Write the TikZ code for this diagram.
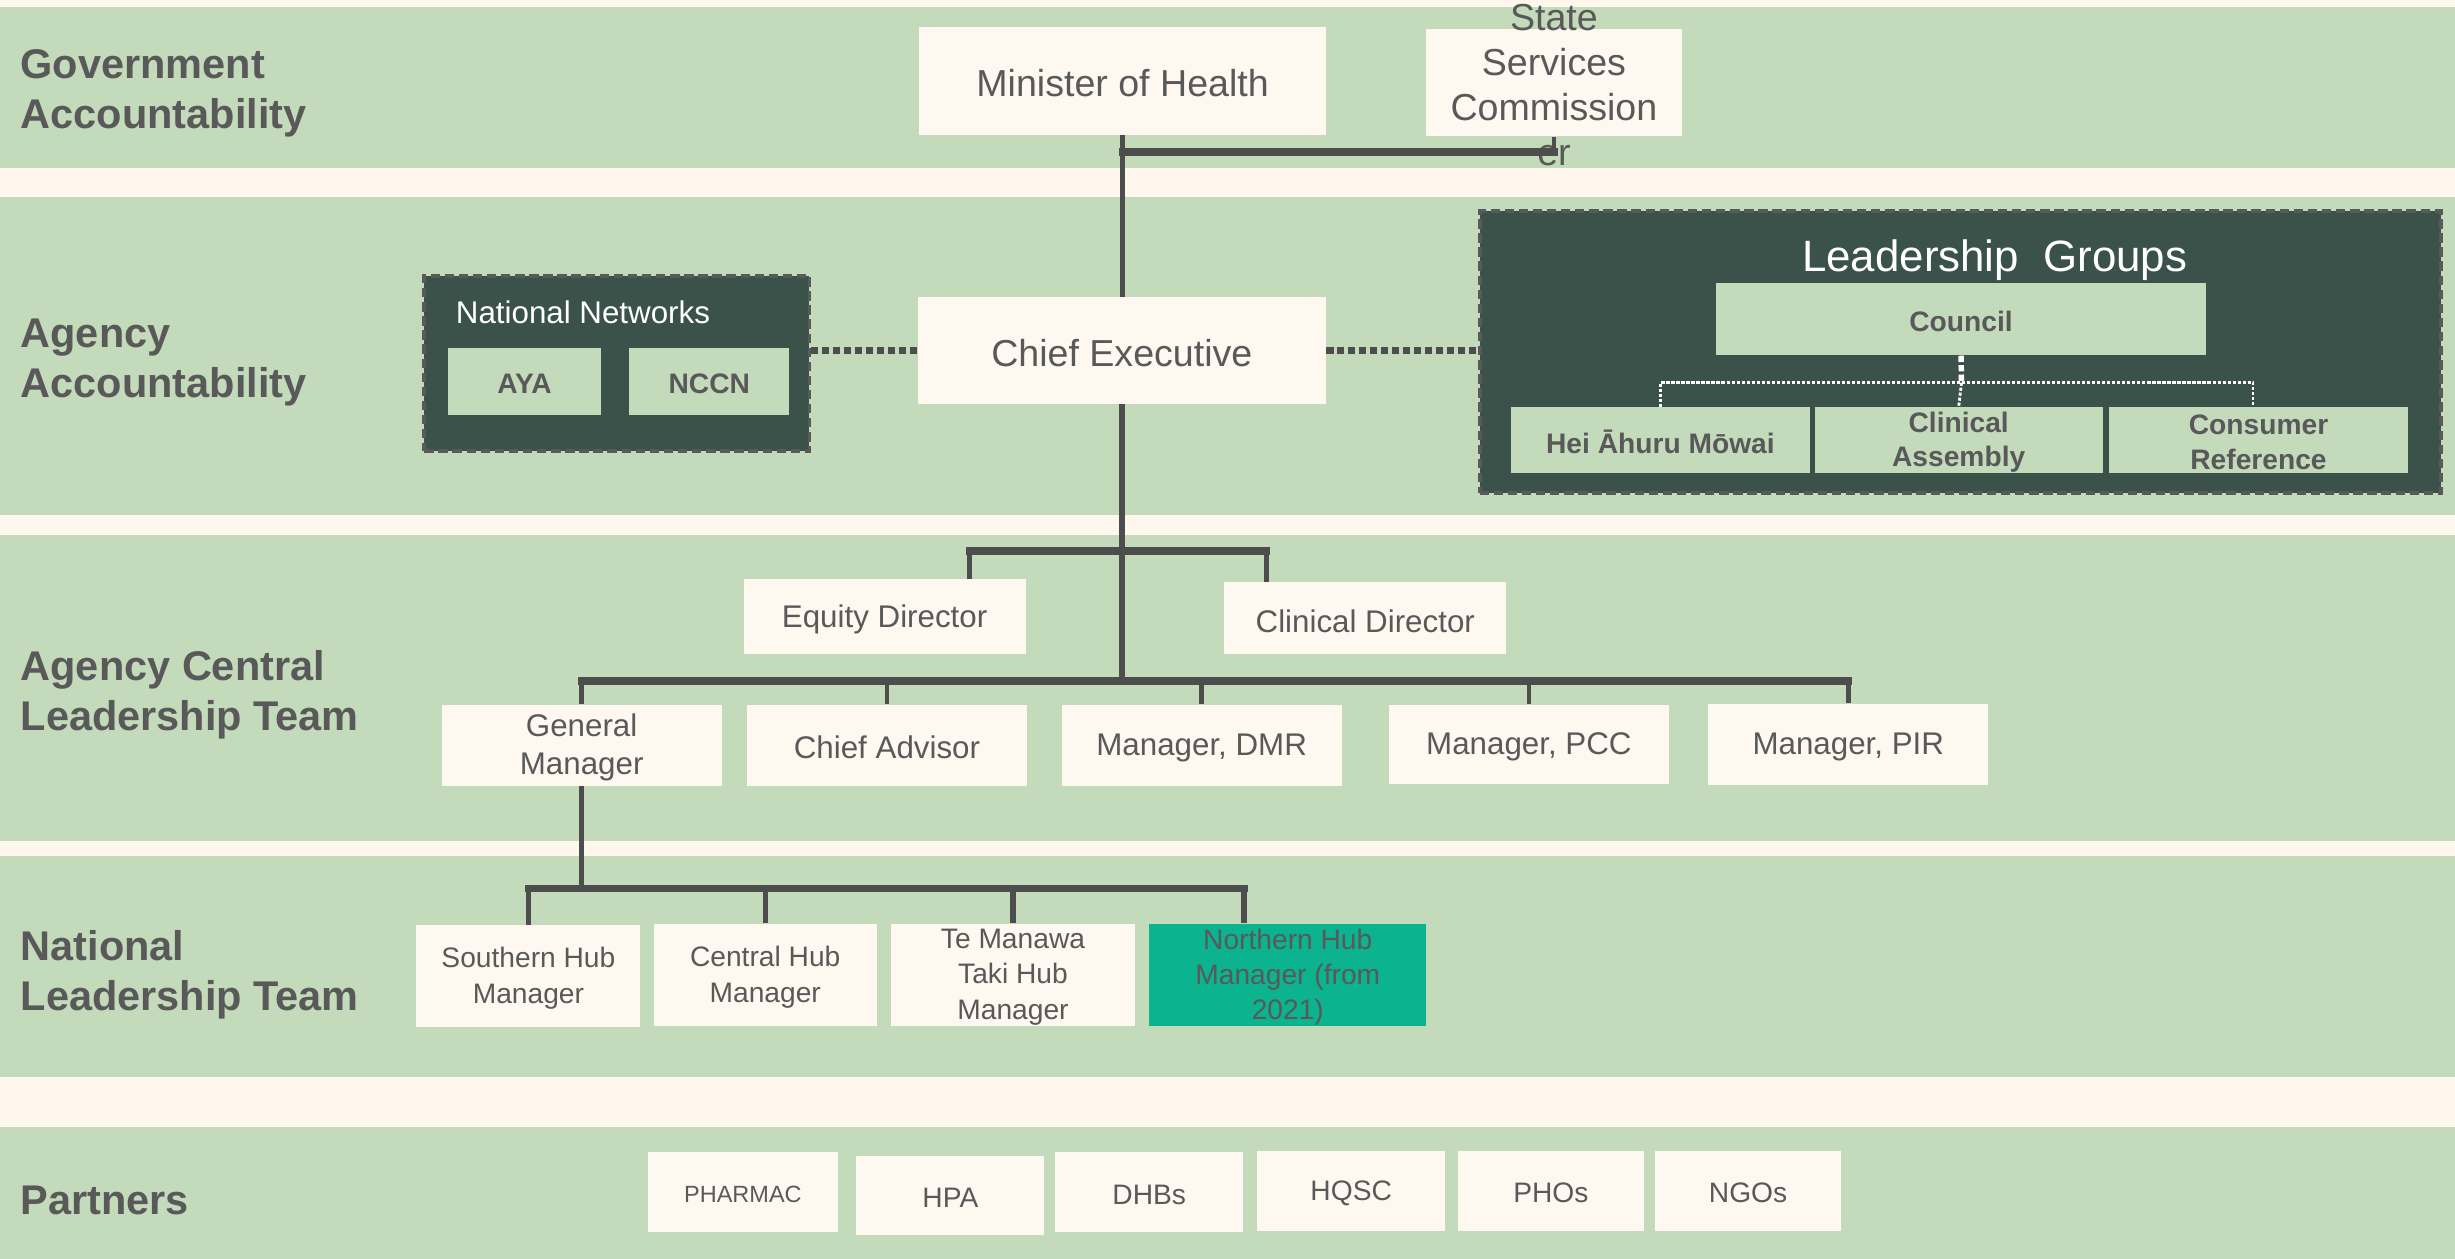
\documentclass[tikz,border=0pt]{standalone}
\usepackage{fontspec}
\setmainfont{Liberation Sans}
\usetikzlibrary{calc}
\definecolor{bgc}{HTML}{FFF7EE}
\definecolor{bandc}{HTML}{C3DBBB}
\definecolor{dkc}{HTML}{3B524A}
\definecolor{hubteal}{HTML}{0BB38F}
\definecolor{boxc}{HTML}{FFF8F1}
\definecolor{txtc}{HTML}{595959}
\definecolor{lnc}{HTML}{4D4D4D}
\newcommand\myfs[2]{\fontsize{#1}{#2}\selectfont}
\begin{document}
\begin{tikzpicture}[x=1pt,y=-1pt,
  cbox/.style={fill=boxc, draw=none, inner sep=0pt},
  gbox/.style={fill=bandc, draw=none, inner sep=0pt},
  tbox/.style={fill=hubteal, draw=none, inner sep=0pt},
  dashbox/.style={fill=dkc, draw=txtc, line width=2.5pt, dash pattern=on 6pt off 3pt, inner sep=0pt},
  tx/.style={text=txtc, align=center, inner sep=0pt, yshift=-1.5pt},
  lbl/.style={text=txtc, align=left, inner sep=0pt, anchor=west, yshift=-2.5pt, font={\myfs{26.5}{32}\bfseries}},
  trunk/.style={draw=lnc, line width=3.5pt},
  barln/.style={draw=lnc, line width=5pt, line cap=rect},
  drop/.style={draw=lnc, line width=3pt},
  dotln/.style={draw=lnc, line width=4.5pt, dash pattern=on 4.5pt off 2.5pt},
  wdot/.style={draw=white, line width=1.8pt, dash pattern=on 2pt off 1.2pt},
  wdotthick/.style={draw=white, line width=3.5pt, dash pattern=on 4pt off 2pt}
]
\path[use as bounding box, fill=bgc] (0,0) rectangle (1568,804);
% bands
\fill[bandc] (0,4.5) rectangle (1568,107);
\fill[bandc] (0,126) rectangle (1568,329);
\fill[bandc] (0,342) rectangle (1568,537);
\fill[bandc] (0,547) rectangle (1568,688);
\fill[bandc] (0,720) rectangle (1568,804);
% band labels
\node[lbl] (l1) at (13,57) {Government\\Accountability};
\node[lbl] (l2) at (13,229) {Agency\\Accountability};
\node[lbl] (l3) at (13,441) {Agency Central\\Leadership Team};
\node[lbl] (l4) at (13,620) {National\\Leadership Team};
\node[lbl] (l5) at (13,764) {Partners};

% Government
\node[cbox, minimum width=260pt, minimum height=69pt] (min) at (717,51.5) {};
\node[tx, font={\myfs{24}{28.7}}] (min-t) at (min) {Minister of Health};
\node[cbox, minimum width=163pt, minimum height=68.5pt] (ssc) at (992.5,52.75) {};
\node[tx, font={\myfs{24}{28.7}}] (ssc-t) at (ssc) {State\\Services\\Commission\\er};

% Agency accountability
\node[cbox, minimum width=261pt, minimum height=68pt] (ce) at (716.5,224) {};
\node[tx, font={\myfs{24}{28.7}}] (ce-t) at (ce) {Chief Executive};

\node[dashbox, minimum width=246pt, minimum height=112pt] (nn) at (394,232) {};
\node[text=white, inner sep=0pt, anchor=west, yshift=-1.5pt, font={\myfs{20}{24}}] (nn-t) at (291,198) {National Networks};
\node[gbox, minimum width=98pt, minimum height=43pt] (aya) at (335,243.5) {};
\node[tx, font={\myfs{18}{22}\bfseries}] (aya-t) at (aya) {AYA};
\node[gbox, minimum width=102pt, minimum height=43pt] (nccn) at (453,243.5) {};
\node[tx, font={\myfs{18}{22}\bfseries}] (nccn-t) at (nccn) {NCCN};

\node[dashbox, minimum width=614pt, minimum height=180pt] (lg) at (1252,225) {};
\node[text=white, inner sep=0pt, yshift=-1.5pt, font={\myfs{28}{33}}] (lg-t) at (1274,164.8) {Leadership\ \ Groups};
\node[gbox, minimum width=313pt, minimum height=46pt] (council) at (1252.5,204) {};
\node[tx, font={\myfs{18}{22}\bfseries}] (council-t) at (council) {Council};
\node[gbox, minimum width=191pt, minimum height=42pt] (hei) at (1060.5,281) {};
\node[tx, font={\myfs{18}{22}\bfseries}] (hei-t) at (hei) {Hei Āhuru Mōwai};
\node[gbox, minimum width=184pt, minimum height=42pt] (clin) at (1251,281) {};
\node[tx, font={\myfs{18}{22}\bfseries}] (clin-t) at (clin) {Clinical\\Assembly};
\node[gbox, minimum width=191pt, minimum height=42pt] (cons) at (1442.5,281) {};
\node[tx, font={\myfs{18}{22}\bfseries}] (cons-t) at (cons) {Consumer\\Reference};

% Agency central leadership
\node[cbox, minimum width=180pt, minimum height=48pt] (eq) at (565,394) {};
\node[tx, font={\myfs{20}{24}}] (eq-t) at (eq) {Equity Director};
\node[cbox, minimum width=180pt, minimum height=46pt] (cd) at (872,395) {};
\node[tx, font={\myfs{20}{24}}] (cd-t) at (cd) {Clinical Director};
\node[cbox, minimum width=179pt, minimum height=52pt] (gm) at (371.5,476) {};
\node[tx, font={\myfs{20}{24}}] (gm-t) at (gm) {General\\Manager};
\node[cbox, minimum width=179pt, minimum height=52pt] (ca) at (566.5,476) {};
\node[tx, font={\myfs{20}{24}}] (ca-t) at (ca) {Chief Advisor};
\node[cbox, minimum width=179pt, minimum height=52pt] (dmr) at (767.5,476) {};
\node[tx, font={\myfs{20}{24}}] (dmr-t) at (dmr) {Manager, DMR};
\node[cbox, minimum width=179pt, minimum height=51pt] (pcc) at (976.5,475.5) {};
\node[tx, font={\myfs{20}{24}}] (pcc-t) at (pcc) {Manager, PCC};
\node[cbox, minimum width=179pt, minimum height=52pt] (pir) at (1180.5,475.5) {};
\node[tx, font={\myfs{20}{24}}] (pir-t) at (pir) {Manager, PIR};

% National leadership
\node[cbox, minimum width=143pt, minimum height=65pt] (sh) at (337.5,623.5) {};
\node[tx, font={\myfs{18}{23}}] (sh-t) at (sh) {Southern Hub\\Manager};
\node[cbox, minimum width=142.5pt, minimum height=65pt] (ch) at (488.75,622.5) {};
\node[tx, font={\myfs{18}{23}}] (ch-t) at (ch) {Central Hub\\Manager};
\node[cbox, minimum width=156pt, minimum height=65pt] (tm) at (647,622.5) {};
\node[tx, font={\myfs{18}{22.5}}] (tm-t) at (tm) {Te Manawa\\Taki Hub\\Manager};
\node[tbox, minimum width=177pt, minimum height=65pt] (nh) at (822.5,622.5) {};
\node[tx, font={\myfs{18}{22.5}}] (nh-t) at (nh) {Northern Hub\\Manager (from\\2021)};

% Partners
\node[cbox, minimum width=121pt, minimum height=51pt] (pharmac) at (474.5,761.5) {};
\node[tx, font={\myfs{15}{18}}] (pharmac-t) at (pharmac) {PHARMAC};
\node[cbox, minimum width=120pt, minimum height=51pt] (hpa) at (607,763.5) {};
\node[tx, font={\myfs{18}{22}}] (hpa-t) at (hpa) {HPA};
\node[cbox, minimum width=120pt, minimum height=51pt] (dhbs) at (734,761.5) {};
\node[tx, font={\myfs{18}{22}}] (dhbs-t) at (dhbs) {DHBs};
\node[cbox, minimum width=120pt, minimum height=51pt] (hqsc) at (863,760.5) {};
\node[tx, font={\myfs{18}{22}}] (hqsc-t) at (hqsc) {HQSC};
\node[cbox, minimum width=119pt, minimum height=51pt] (phos) at (990.5,760.5) {};
\node[tx, font={\myfs{18}{22}}] (phos-t) at (phos) {PHOs};
\node[cbox, minimum width=119pt, minimum height=51pt] (ngos) at (1116.5,760.5) {};
\node[tx, font={\myfs{18}{22}}] (ngos-t) at (ngos) {NGOs};

% ---- connectors ----
\coordinate (j1) at (717,97);
\draw[trunk] (min.south) -- (min.south |- ce.north);
\draw[barln] (j1) -- (ssc.south |- j1);
\draw[drop, line width=2.5pt] (ssc.south) -- (ssc.south |- j1);

\draw[dotln] (nn.east |- ce.west) -- (ce.west);
\draw[dotln] (ce.east) -- (lg.west |- ce.east);

\coordinate (lgj) at (1252.8,244.4);
\coordinate (consd) at ($(cons.north)+(-3.5,0)$);
\draw[wdotthick] (council.south) -- (lgj);
\draw[wdot] (hei.north) -- (hei.north |- lgj) -- (consd |- lgj) -- (consd);
\draw[wdot] (lgj) -- (clin.north);

% central leadership
\coordinate (j2) at (716.5,352);
\coordinate (j3) at (716.5,435);
\draw[trunk] (ce.south) -- (j3);
\coordinate (eqd) at ($(eq.north east)+(-36,0)$);
\coordinate (cdd) at ($(cd.north west)+(27,0)$);
\draw[barln] (eqd |- j2) -- (cdd |- j2);
\draw[drop] (eqd |- j2) -- (eqd);
\draw[drop] (cdd |- j2) -- (cdd);
\draw[barln] (gm.north |- j3) -- (pir.north |- j3);
\foreach \n in {gm,ca,dmr,pcc,pir}{\draw[drop] (\n.north |- j3) -- (\n.north);}

% national leadership
\coordinate (j4) at (371.5,567.5);
\coordinate (nhd) at ($(nh.north west)+(60.6,0)$);
\draw[trunk] (gm.south) -- (j4);
\draw[barln] (sh.north |- j4) -- (nhd |- j4);
\foreach \n in {sh,ch,tm}{\draw[drop, line width=3.5pt] (\n.north |- j4) -- (\n.north);}
\draw[drop, line width=3.5pt] (nhd |- j4) -- (nhd);
\end{tikzpicture}
\end{document}
